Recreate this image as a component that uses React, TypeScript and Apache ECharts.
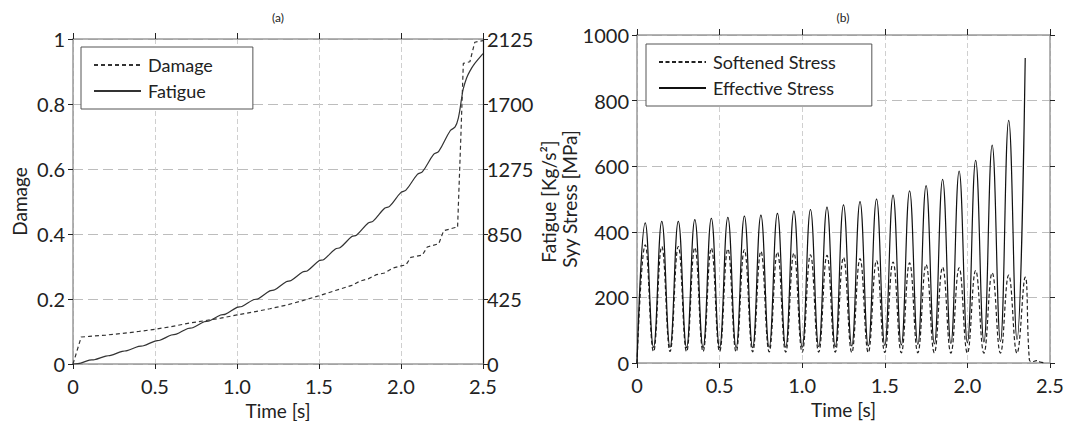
import React, { useEffect, useRef } from "react";
import * as echarts from "echarts";

// ---------- Chart (a): Damage & Fatigue ----------
const damageTime = [0, 0.05, 0.1, 0.2, 0.3, 0.4, 0.5, 0.6, 0.7, 0.8, 0.9, 1.0, 1.1, 1.2, 1.3, 1.4, 1.5, 1.6, 1.7, 1.75, 1.8, 1.85, 1.9, 1.95, 2.0, 2.03, 2.06, 2.13, 2.16, 2.23, 2.26, 2.33, 2.345, 2.365, 2.38, 2.42, 2.45, 2.5];
const damageValue = [0, 0.083, 0.085, 0.089, 0.094, 0.1, 0.107, 0.115, 0.125, 0.133, 0.141, 0.151, 0.16, 0.17, 0.181, 0.195, 0.21, 0.226, 0.242, 0.255, 0.262, 0.275, 0.28, 0.295, 0.302, 0.305, 0.328, 0.335, 0.36, 0.37, 0.41, 0.42, 0.42, 0.7, 0.925, 0.93, 0.99, 0.995];

const fatigueTime = [0, 0.03, 0.1, 0.13, 0.2, 0.23, 0.3, 0.33, 0.4, 0.43, 0.5, 0.53, 0.6, 0.63, 0.7, 0.73, 0.8, 0.83, 0.9, 0.93, 1.0, 1.03, 1.1, 1.13, 1.2, 1.23, 1.3, 1.33, 1.4, 1.43, 1.5, 1.53, 1.6, 1.63, 1.7, 1.73, 1.8, 1.83, 1.9, 1.93, 2.0, 2.03, 2.1, 2.13, 2.2, 2.23, 2.3, 2.33, 2.35, 2.37, 2.38, 2.4, 2.42, 2.45, 2.5];
const fatigueValue = [0, 2, 25, 28, 52, 56, 83, 87, 115, 119, 150, 155, 190, 195, 232, 237, 276, 281, 320, 326, 370, 376, 420, 427, 478, 485, 538, 546, 601, 610, 675, 684, 752, 762, 833, 844, 922, 934, 1018, 1031, 1122, 1137, 1240, 1256, 1372, 1390, 1525, 1550, 1610, 1740, 1800, 1870, 1915, 1965, 2030];

const damageTicks = [0, 0.2, 0.4, 0.6, 0.8, 1];
const fatigueTicks = [0, 425, 850, 1275, 1700, 2125];
const timeTicks = [0, 0.5, 1.0, 1.5, 2.0, 2.5];

// ---------- Chart (b): Stresses ----------
const valleyTime = [0, 0.1, 0.2, 0.3, 0.4, 0.5, 0.6, 0.7, 0.8, 0.9, 1.0, 1.1, 1.2, 1.3, 1.4, 1.5, 1.6, 1.7, 1.8, 1.9, 2.0, 2.1, 2.2, 2.3];
const peakTime = [0.05, 0.15, 0.25, 0.35, 0.45, 0.55, 0.65, 0.75, 0.85, 0.95, 1.05, 1.15, 1.25, 1.35, 1.45, 1.55, 1.65, 1.75, 1.85, 1.95, 2.05, 2.15, 2.25, 2.35];
const effectivePeak = [427, 432, 432, 437, 441, 444, 448, 451, 456, 463, 468, 475, 482, 492, 500, 512, 525, 541, 560, 585, 618, 664, 740, 930];
const effectiveValley = [0, 48, 48, 47, 47, 47, 47, 47, 48, 48, 48, 50, 50, 52, 52, 54, 55, 57, 58, 60, 62, 64, 66, 72];
const softenedPeak = [360, 355, 355, 352, 350, 348, 345, 340, 338, 335, 330, 328, 322, 318, 312, 308, 305, 300, 292, 290, 282, 275, 268, 262];
const softenedValley = [0, 35, 35, 35, 35, 35, 34, 34, 34, 33, 33, 33, 33, 32, 32, 32, 31, 31, 31, 30, 30, 30, 30, 30];
const softenedTailTime = [2.375, 2.39, 2.42, 2.44, 2.46];
const softenedTailValue = [10, 4, 7, 3, 1];
const stressTicks = [0, 200, 400, 600, 800, 1000];

const FONT = "Lato";
const TXT = "#222";
const AXIS_GRAY = "#9a9a9a";
const TICK_FS = 20;
const NAME_FS = 19;

function pairs(t: number[], v: number[]) {
  return t.map((x, i) => [x, v[i]]);
}
function cycles(vals: number[], peaks: number[]) {
  const out: number[][] = [];
  for (let i = 0; i < valleyTime.length; i++) {
    out.push([valleyTime[i], vals[i]]);
    out.push([peakTime[i], peaks[i]]);
  }
  return out;
}

const fmtTime = (v: number) => (v === 0 ? "0" : v.toFixed(1));
const fmtDamage = (v: number) => (v === 0 ? "0" : v === 1 ? "1" : v.toFixed(1));
const fmtInt = (v: number) => String(Math.round(v));

function xAxes(grid: number) {
  return [
    {
      gridIndex: grid,
      type: "value",
      min: timeTicks[0],
      max: timeTicks[timeTicks.length - 1],
      interval: 0.5,
      position: "bottom",
      axisLine: { show: true, onZero: false, lineStyle: { color: AXIS_GRAY, width: 1.5 } },
      axisTick: { show: true, length: 5, lineStyle: { color: TXT } },
      axisLabel: { fontSize: TICK_FS, lineHeight: 16, color: TXT, margin: 14, formatter: fmtTime, fontFamily: FONT },
      splitLine: { show: true, lineStyle: { type: [5, 3], color: "#cfcfcf", width: 1 } },
      name: "Time [s]",
      nameLocation: "middle",
      nameGap: 34,
      nameTextStyle: { fontSize: NAME_FS, lineHeight: 18, color: TXT, fontFamily: FONT },
    },
    {
      gridIndex: grid,
      type: "value",
      min: timeTicks[0],
      max: timeTicks[timeTicks.length - 1],
      interval: 0.5,
      position: "top",
      axisLine: { show: true, onZero: false, lineStyle: { color: AXIS_GRAY, width: 1.5 } },
      axisTick: { show: true, length: 6, lineStyle: { color: TXT } },
      axisLabel: { show: false },
      splitLine: { show: false },
    },
  ];
}

function legendBox(left: number, top: number, names: string[], padRight: number) {
  return {
    left,
    top,
    orient: "vertical",
    data: names,
    backgroundColor: "#fff",
    borderColor: "#555",
    borderWidth: 1,
    borderRadius: 0,
    padding: [9, padRight, 9, 12],
    itemWidth: 47,
    itemHeight: 14,
    itemGap: 8,
    itemStyle: { opacity: 0 },
    textStyle: { fontSize: 18, color: TXT, fontFamily: FONT, padding: [0, 0, 0, 2] },
  };
}

export default function App() {
  const ref = useRef<HTMLDivElement>(null);
  useEffect(() => {
    if (!ref.current) return;
    const chart = echarts.init(ref.current, undefined, { renderer: "svg" });
    const tickStyle = { fontSize: TICK_FS, color: TXT, fontFamily: FONT };
    const nameStyle = { fontSize: NAME_FS, color: TXT, fontFamily: FONT };
    const hSplit = { show: true, lineStyle: { type: [10, 5], color: "#bdbdbd", width: 1 } };
    const option: any = {
      animation: false,
      textStyle: { fontFamily: FONT },
      graphic: [
        { type: "text", x: 278, y: 11, style: { text: "(a)", fontSize: 12, fill: TXT, fontFamily: FONT, textAlign: "center" } },
        { type: "text", x: 843, y: 11, style: { text: "(b)", fontSize: 12, fill: TXT, fontFamily: FONT, textAlign: "center" } },
      ],
      grid: [
        { left: 73, top: 39, width: 410, height: 325, containLabel: false, outerBoundsMode: "none" },
        { left: 637, top: 35, width: 413, height: 328, containLabel: false, outerBoundsMode: "none" },
      ],
      xAxis: [...xAxes(0), ...xAxes(1)],
      yAxis: [
        {
          gridIndex: 0,
          type: "value",
          min: damageTicks[0],
          max: damageTicks[damageTicks.length - 1],
          interval: 0.2,
          position: "left",
          axisLine: { show: true, onZero: false, lineStyle: { color: AXIS_GRAY, width: 1.5 } },
          axisTick: { show: true, length: 5, lineStyle: { color: TXT } },
          axisLabel: { ...tickStyle, margin: 8, formatter: fmtDamage },
          splitLine: hSplit,
          name: "Damage",
          nameLocation: "middle",
          nameRotate: 90,
          nameGap: 44,
          nameTextStyle: nameStyle,
        },
        {
          gridIndex: 0,
          type: "value",
          min: fatigueTicks[0],
          max: fatigueTicks[fatigueTicks.length - 1],
          interval: 425,
          position: "right",
          axisLine: { show: true, onZero: false, lineStyle: { color: "#111", width: 1.2 } },
          axisTick: { show: true, length: 5, lineStyle: { color: TXT } },
          axisLabel: { ...tickStyle, lineHeight: 16, margin: 4, formatter: fmtInt },
          splitLine: { show: false },
          name: "Fatigue [Kg/s²]",
          nameLocation: "middle",
          nameRotate: 90,
          nameGap: 56,
          nameTextStyle: nameStyle,
        },
        {
          gridIndex: 1,
          type: "value",
          min: stressTicks[0],
          max: stressTicks[stressTicks.length - 1],
          interval: 200,
          position: "left",
          axisLine: { show: true, onZero: false, lineStyle: { color: AXIS_GRAY, width: 1.5 } },
          axisTick: { show: true, length: 5, lineStyle: { color: TXT } },
          axisLabel: { ...tickStyle, margin: 8, formatter: fmtInt },
          splitLine: hSplit,
          name: "Syy Stress [MPa]",
          nameLocation: "middle",
          nameRotate: 90,
          nameGap: 57,
          nameTextStyle: nameStyle,
        },
        {
          gridIndex: 1,
          type: "value",
          min: stressTicks[0],
          max: stressTicks[stressTicks.length - 1],
          interval: 200,
          position: "right",
          axisLine: { show: true, onZero: false, lineStyle: { color: AXIS_GRAY, width: 1.5 } },
          axisTick: { show: true, length: 5, lineStyle: { color: TXT } },
          axisLabel: { show: false },
          splitLine: { show: false },
        },
      ],
      legend: [
        legendBox(81, 47, ["Damage", "Fatigue"], 40),
        legendBox(646, 44, ["Softened Stress", "Effective Stress"], 36),
      ],
      series: [
        {
          name: "Damage",
          type: "line",
          xAxisIndex: 0,
          yAxisIndex: 0,
          data: pairs(damageTime, damageValue),
          showSymbol: false,
          symbol: "none",
          color: "#333",
          lineStyle: { color: "#333", width: 1.2, type: [4, 3] },
        },
        {
          name: "Fatigue",
          type: "line",
          xAxisIndex: 0,
          yAxisIndex: 1,
          data: pairs(fatigueTime, fatigueValue),
          showSymbol: false,
          symbol: "none",
          smooth: 0.4,
          color: "#333",
          lineStyle: { color: "#333", width: 1.2 },
        },
        {
          name: "Softened Stress",
          type: "line",
          xAxisIndex: 2,
          yAxisIndex: 2,
          data: [...cycles(softenedValley, softenedPeak), ...pairs(softenedTailTime, softenedTailValue)],
          showSymbol: false,
          symbol: "none",
          smooth: 0.45,
          color: "#222",
          lineStyle: { color: "#222", width: 1.2, type: [4, 2.5] },
        },
        {
          name: "Effective Stress",
          type: "line",
          xAxisIndex: 2,
          yAxisIndex: 2,
          data: cycles(effectiveValley, effectivePeak),
          showSymbol: false,
          symbol: "none",
          smooth: 0.45,
          color: "#111",
          lineStyle: { color: "#111", width: 1.2 },
        },
      ],
    };
    chart.setOption(option);
    return () => chart.dispose();
  }, []);
  return (
    <div
      ref={ref}
      style={{ position: "absolute", left: 0, top: 0, width: 1065, height: 421, background: "#fff" }}
    />
  );
}
